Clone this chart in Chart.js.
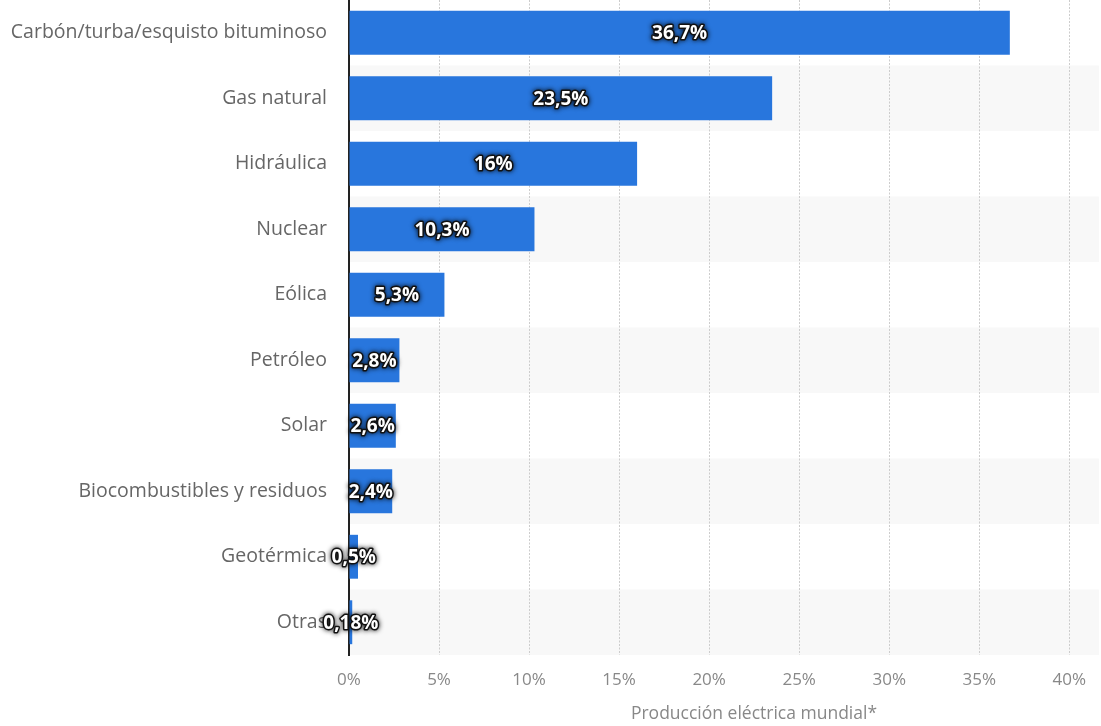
<!DOCTYPE html>
<html>
<head>
<meta charset="utf-8">
<script src="https://cdn.jsdelivr.net/npm/chart.js@4"></script>
<style>
  html, body { margin: 0; padding: 0; background: #fff; }
  #wrap { width: 1101px; height: 726px; }
</style>
</head>
<body>
<div id="wrap"><canvas id="chart"></canvas></div>
<script>
const fuentes = ['Carbón/turba/esquisto bituminoso', 'Gas natural', 'Hidráulica', 'Nuclear', 'Eólica', 'Petróleo', 'Solar', 'Biocombustibles y residuos', 'Geotérmica', 'Otras']
const porcentajes = [36.7, 23.5, 16, 10.3, 5.3, 2.8, 2.6, 2.4, 0.5, 0.18]
const etiquetas = ['36,7%', '23,5%', '16%', '10,3%', '5,3%', '2,8%', '2,6%', '2,4%', '0,5%', '0,18%']
const ticksX = [0, 5, 10, 15, 20, 25, 30, 35, 40]
const tituloX = 'Producción eléctrica mundial*'

const FONT = "'Open Sans', sans-serif"

// alternate light bands behind every second row
const bandas = {
  id: 'bandas',
  beforeDraw(c) {
    const { ctx, chartArea: a, scales: { y } } = c
    const h = (a.bottom - a.top) / fuentes.length
    ctx.save()
    ctx.fillStyle = '#f8f8f8'
    fuentes.forEach((f, i) => {
      if (i % 2 === 1) ctx.fillRect(a.left, y.getPixelForValue(i) - h / 2, a.right - a.left, h)
    })
    ctx.restore()
  }
}

// white value labels with dark halo in the middle of each bar, plus axis title
const valores = {
  id: 'valores',
  afterDatasetsDraw(c) {
    const { ctx } = c
    const meta = c.getDatasetMeta(0)
    ctx.save()
    ctx.font = "bold 19px " + FONT
    ctx.textAlign = 'center'
    ctx.textBaseline = 'middle'
    ctx.lineJoin = 'round'
    meta.data.forEach((bar, i) => {
      const x = (bar.x + bar.base) / 2
      const y = bar.y + 1
      ctx.shadowColor = 'rgba(0,0,0,0.9)'
      ctx.shadowBlur = 5
      ctx.strokeStyle = '#111'
      ctx.lineWidth = 3
      ctx.strokeText(etiquetas[i], x, y)
      ctx.shadowBlur = 0
      ctx.fillStyle = '#fff'
      ctx.fillText(etiquetas[i], x, y)
    })
    ctx.restore()
  },
  afterDraw(c) {
    const { ctx, chartArea: a } = c
    ctx.save()
    ctx.font = "17.5px " + FONT
    ctx.fillStyle = '#888'
    ctx.textAlign = 'center'
    ctx.textBaseline = 'middle'
    ctx.fillText(tituloX, a.left + (a.right - a.left) * 0.54, c.height - 12)
    ctx.restore()
  }
}

new Chart(document.querySelector('#chart'), {
  type: 'bar',
  data: {
    labels: fuentes,
    datasets: [{
      data: porcentajes,
      backgroundColor: '#2876dd',
      categoryPercentage: 1,
      barPercentage: 0.67
    }]
  },
  options: {
    indexAxis: 'y',
    responsive: true,
    maintainAspectRatio: false,
    animation: false,
    layout: { padding: 0 },
    plugins: { legend: { display: false }, tooltip: { enabled: false } },
    scales: {
      x: {
        min: 0,
        max: 41.65,
        afterBuildTicks(s) { s.ticks = ticksX.map(v => ({ value: v })) },
        afterFit(s) { s.height = 71 },
        grid: { color: '#cccccc', drawTicks: false, lineWidth: 1 },
        border: { display: false, dash: [2, 1.5] },
        ticks: {
          padding: 15,
          color: '#888',
          font: { family: FONT, size: 17 },
          callback: v => v + '%'
        }
      },
      y: {
        afterFit(s) { s.width = 349; s.paddingTop = 0; s.paddingBottom = 0 },
        grid: { display: false, drawTicks: false },
        border: { color: '#222', width: 2 },
        ticks: {
          padding: 22,
          color: '#666',
          font: { family: FONT, size: 19.5 }
        }
      }
    }
  },
  plugins: [bandas, valores]
})
</script>
</body>
</html>
